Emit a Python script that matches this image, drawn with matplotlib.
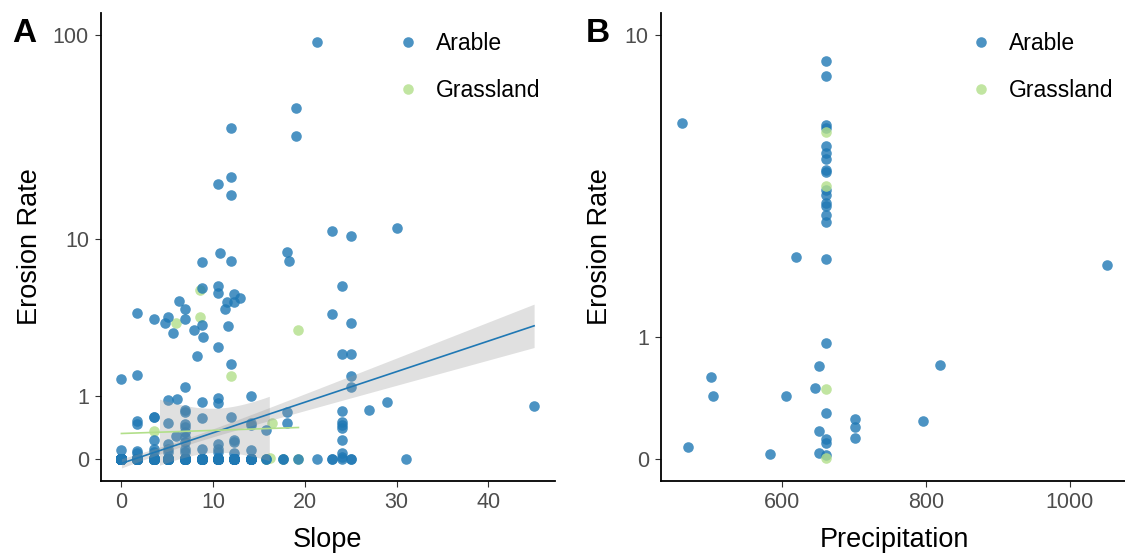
import numpy as np
import matplotlib.pyplot as plt
from matplotlib.lines import Line2D

plt.rcParams['font.family'] = ['Liberation Sans', 'DejaVu Sans']

ARABLE_COL = '#1F78B4'
GRASS_COL = '#B2DF8A'

# ---- panel A: slope vs erosion rate, visible values grouped by slope column ----
arable_slope_cols = [0, 1.7, 3.5, 4.7, 5.1, 5.6, 5.9, 6.1, 6.3, 6.9, 7.9, 8.2, 8.8, 8.9,
                     10.5, 10.8, 11.3, 11.5, 11.6, 12.0, 12.3, 12.9, 14.1, 15.8, 17.6,
                     18.0, 18.3, 19.0, 19.3, 21.3, 23.0, 24.0, 25.0, 27.0, 29.0, 30.1,
                     31.0, 45.0]
arable_rate_cols = [
    [1.39, 0.11, 0, 0, 0, 0],
    [3.9, 1.51, 0.51, 0.47, 0.1, 0.07, 0, 0, 0, 0],
    [3.6, 0.59, 0.58, 0.23, 0.12, 0.08, 0, 0, 0, 0],
    [3.4],
    [3.7, 0.9, 0.49, 0.18, 0.12, 0.09, 0, 0, 0, 0],
    [2.94],
    [0.29],
    [0.92],
    [4.6],
    [4.1, 3.6, 1.2, 0.72, 0.68, 0.47, 0.43, 0.35, 0.28, 0.21, 0.12, 0.08, 0, 0, 0, 0, 0],
    [3.1],
    [2.07],
    [7.5, 5.43, 3.3, 0.87, 0.56, 0.12, 0, 0, 0, 0],
    [2.8],
    [19.0, 5.6, 5.1, 2.38, 0.94, 0.85, 0.18, 0.12, 0.08, 0, 0, 0, 0],
    [8.4],
    [4.1],
    [4.5],
    [3.27],
    [35.7, 20.5, 16.6, 7.6, 1.82, 0.58],
    [5.0, 4.5, 0.24, 0.21, 0.07, 0, 0, 0],
    [4.8],
    [1.0, 0.48, 0.45, 0.11, 0, 0, 0],
    [0.37, 0, 0],
    [0, 0],
    [8.5, 0.68, 0.49],
    [7.6],
    [44.3, 32.7],
    [0],
    [91.7, 0],
    [10.9, 3.85, 0, 0],
    [5.6, 2.14, 0.69, 0.5, 0.45, 0.41, 0.24, 0.07, 0.03, 0],
    [10.3, 3.38, 2.16, 1.47, 1.19, 0, 0],
    [0.71],
    [0.87],
    [11.3],
    [0],
    [0.79],
]
# estimated extra zero-rate plots stacked on top of each other in the zero row
arable_zero_slope = [0, 1.7, 3.5, 5.1, 6.9, 8.8, 10.5, 12.3, 14.1]
arable_zero_count = [160, 80, 70, 60, 60, 45, 35, 25, 15]

grass_slope_a = [3.5, 5.9, 8.6, 8.6, 12.0, 16.4, 16.2, 19.3,
                 0, 1.7, 3.5, 3.5, 5.1, 6.9, 8.8, 8.8, 10.5, 10.5, 12.3, 12.3,
                 14.1, 15.8, 15.8, 17.6, 19.3]
grass_rate_a = [0.36, 3.4, 5.3, 3.7, 1.48, 0.49, 0.02, 3.09,
                0, 0, 0, 0, 0, 0, 0, 0, 0, 0, 0, 0, 0, 0, 0, 0, 0]
GRASS_BAND_RANGE = (4.1, 16.2)

# ---- panel B: precipitation vs erosion rate ----
arable_precip_b = [460, 469, 500, 503, 582, 605, 619, 645, 651, 651, 651,
                   660, 660, 660, 660, 660, 660, 660, 660, 660, 660, 660,
                   660, 660, 660, 660, 660, 660, 660, 660, 660, 660,
                   701, 701, 701, 795, 819, 1052]
arable_rate_b = [5.68, 0.07, 0.589, 0.43, 0.032, 0.43, 2.13, 0.496, 0.696, 0.177, 0.038,
                 8.49, 7.72, 5.61, 5.49, 4.85, 4.64, 4.45, 4.13, 4.05, 3.58, 3.45,
                 3.25, 3.17, 2.98, 2.81, 2.10, 0.934, 0.30, 0.123, 0.096, 0.023,
                 0.257, 0.199, 0.13, 0.24, 0.70, 1.99]
grass_precip_b = [660, 660, 660, 660]
grass_rate_b = [5.33, 3.69, 0.488, 0.01]

yticks_a = [0, 1, 10, 100]
yticks_b = [0, 1, 10]
xticks_a = [0, 10, 20, 30, 40]
xticks_b = [600, 800, 1000]


def fwd(v):
    return np.log10(np.clip(np.asarray(v, float) + 1, 1e-6, None))


def inv(t):
    return 10 ** np.asarray(t, float) - 1


def lm_band(x, y, xs):
    # straight-line fit on the log10(y + 1) scale with a 95% band
    x = np.asarray(x, float)
    t = fwd(y)
    b, a = np.polyfit(x, t, 1)
    res = t - (a + b * x)
    n = len(x)
    s = np.sqrt(np.sum(res ** 2) / (n - 2))
    se = s * np.sqrt(1 / n + (xs - x.mean()) ** 2 / np.sum((x - x.mean()) ** 2))
    fit = a + b * xs
    return fit, fit - 1.97 * se, fit + 1.97 * se


def style(ax, yticks, xticks, xlab):
    ax.set_yscale('function', functions=(fwd, inv))
    ax.set_yticks(yticks)
    ax.set_yticklabels([str(v) for v in yticks])
    ax.set_xticks(xticks)
    ax.minorticks_off()
    for side in ['top', 'right']:
        ax.spines[side].set_visible(False)
    for side in ['left', 'bottom']:
        ax.spines[side].set_linewidth(1.3)
    ax.tick_params(length=4, width=0.8, color='#333333', labelcolor='#4D4D4D',
                   labelsize=15.5, pad=4.5)
    ax.set_xlabel(xlab, fontsize=19.5)
    ax.set_ylabel('Erosion Rate', fontsize=19.5)
    ax.xaxis.set_label_coords(0.5, -0.099)
    ax.xaxis.label.set_va('top')


def expand(lo, hi, f=0.05):
    d = (hi - lo) * f
    return lo - d, hi + d


arable_slope_a = np.concatenate([[c] * len(v) for c, v in zip(arable_slope_cols, arable_rate_cols)]
                                + [np.repeat(arable_zero_slope, arable_zero_count)])
arable_rate_a = np.concatenate(arable_rate_cols + [np.zeros(sum(arable_zero_count))])

fig = plt.figure(figsize=(11.25, 5.55), dpi=100)
axA = fig.add_axes([0.0896, 0.1339, 0.4035, 0.8422])
axB = fig.add_axes([0.5872, 0.1339, 0.416, 0.8422])

# panel A
axA.scatter(grass_slope_a, grass_rate_a, s=58, color=GRASS_COL, alpha=0.8, lw=0, zorder=2)
axA.scatter(arable_slope_a, arable_rate_a, s=58, color=ARABLE_COL, alpha=0.8, lw=0, zorder=2)

xs = np.linspace(arable_slope_a.min(), arable_slope_a.max(), 80)
fit, lo, hi = lm_band(arable_slope_a, arable_rate_a, xs)
axA.fill_between(xs, inv(lo), inv(hi), color='#999999', alpha=0.3, lw=0, zorder=3)
axA.plot(xs, inv(fit), color=ARABLE_COL, lw=1.2, zorder=4)

xg = np.linspace(min(grass_slope_a), max(grass_slope_a), 80)
gfit, glo, ghi = lm_band(grass_slope_a, grass_rate_a, xg)
band = (xg >= GRASS_BAND_RANGE[0]) & (xg <= GRASS_BAND_RANGE[1])
axA.fill_between(xg[band], inv(glo[band]), inv(ghi[band]), color='#999999', alpha=0.3, lw=0, zorder=3)
axA.plot(xg, inv(gfit), color=GRASS_COL, lw=1.2, zorder=4)

axA.set_xlim(*expand(0, 45))
axA.set_ylim(*inv(expand(0, fwd(100))))
style(axA, yticks_a, xticks_a, 'Slope')
axA.yaxis.set_label_coords(-0.1273, 0.5)

# panel B
axB.scatter(arable_precip_b, arable_rate_b, s=58, color=ARABLE_COL, alpha=0.8, lw=0, zorder=2)
axB.scatter(grass_precip_b, grass_rate_b, s=58, color=GRASS_COL, alpha=0.8, lw=0, zorder=2)
allp = arable_precip_b + grass_precip_b
axB.set_xlim(*expand(min(allp), max(allp)))
axB.set_ylim(*inv(expand(0, fwd(10))))
style(axB, yticks_b, xticks_b, 'Precipitation')
axB.yaxis.set_label_coords(-0.1017, 0.5)

handles = [Line2D([], [], marker='o', ls='', color=ARABLE_COL, alpha=0.8, markersize=7.6, mew=0),
           Line2D([], [], marker='o', ls='', color=GRASS_COL, alpha=0.8, markersize=7.6, mew=0)]
for ax, lx in [(axA, 398.8), (axB, 971.5)]:
    ax.legend(handles, ['Arable', 'Grassland'], loc='upper left', frameon=False,
              bbox_to_anchor=(lx / 1125, 1 - 32.0 / 555), bbox_transform=fig.transFigure,
              fontsize=16.5, handlelength=0.8, handletextpad=0.82, labelspacing=1.05,
              borderpad=0, borderaxespad=0)

fig.text(12.5 / 1125, 1 - 41.7 / 555, 'A', fontsize=24, fontweight='bold', va='baseline')
fig.text(586 / 1125, 1 - 41.7 / 555, 'B', fontsize=24, fontweight='bold', va='baseline')

fig.savefig('out.png', dpi=100)
